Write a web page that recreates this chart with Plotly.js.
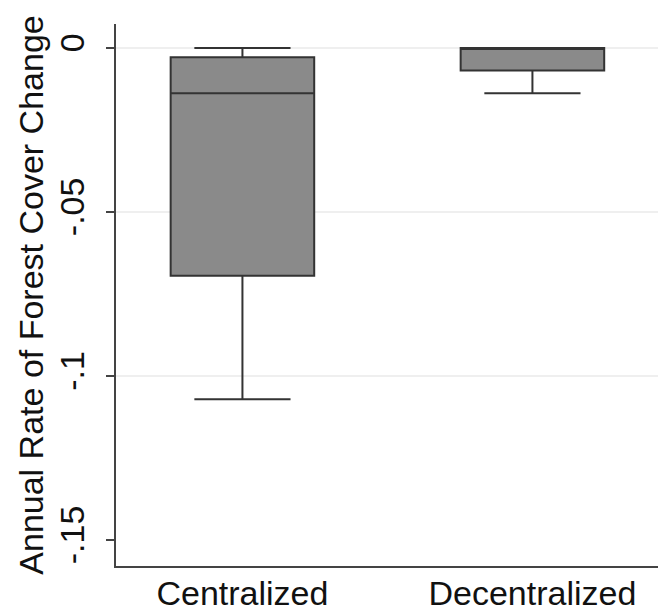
<!DOCTYPE html>
<html>
<head>
<meta charset="utf-8">
<script src="https://cdn.plot.ly/plotly-3.0.1.min.js"></script>
<style>html,body{margin:0;padding:0;background:#fff;}#chart{width:658px;height:608px;}</style>
</head>
<body>
<div id="chart"></div>
<script>
// Data
const categories = ["Centralized", "Decentralized"];
const lowerWhisker = [-0.1071, -0.0138];
const q1Values = [-0.0694, -0.0069];
const medianValues = [-0.0138, 0.0];
const q3Values = [-0.0028, 0.0];
const upperWhisker = [0.0, 0.0];
const yTickVals = [0, -0.05, -0.1, -0.15];
const yTickText = ["0", "-.05", "-.1", "-.15"];
const gridVals = [0, -0.05, -0.1];

const font = "Liberation Sans, Arial, sans-serif";
const fs = 34;

const traces = [{
  type: "scatter", x: [categories[0]], y: [0], yaxis: "y2",
  mode: "markers", marker: {opacity: 0}, hoverinfo: "skip", showlegend: false
}, {
  type: "box",
  x: categories,
  q1: q1Values,
  median: medianValues,
  q3: q3Values,
  lowerfence: lowerWhisker,
  upperfence: upperWhisker,
  width: 0.495,
  whiskerwidth: 0.67,
  fillcolor: "#8a8a8a",
  line: {color: "#333333", width: 2},
  boxpoints: false,
  hoverinfo: "skip",
  showlegend: false
}];

const yRange = [-0.1579, 0.0073];

const layout = {
  width: 658, height: 608,
  margin: {l: 116, r: 0, t: 24, b: 42, pad: 0},
  paper_bgcolor: "#ffffff",
  plot_bgcolor: "rgba(0,0,0,0)",
  font: {family: font, size: fs, color: "#111111"},
  showlegend: false,
  xaxis: {
    type: "category",
    range: [-0.436, 1.433],
    showline: true, linecolor: "#444444", linewidth: 2,
    ticks: "", showgrid: false, zeroline: false,
    tickfont: {family: font, size: fs, color: "#111111"},
    ticklabelstandoff: -4,
    fixedrange: true
  },
  yaxis: {
    range: yRange,
    tickvals: yTickVals, ticktext: yTickText,
    tickangle: -90,
    ticks: "outside", ticklen: 8, tickwidth: 2, tickcolor: "#444444",
    showline: true, linecolor: "#444444", linewidth: 2,
    showgrid: false, zeroline: false,
    tickfont: {family: font, size: fs, color: "#111111"},
    ticklabelstandoff: 8,
    title: {text: "Annual Rate of Forest Cover Change", font: {family: font, size: fs, color: "#111111"}, standoff: 0},
    automargin: false,
    fixedrange: true
  },
  yaxis2: {
    overlaying: "y",
    range: yRange,
    tickvals: gridVals,
    showticklabels: false, ticks: "",
    showgrid: true, gridcolor: "#efefef", gridwidth: 2,
    zeroline: false, showline: false,
    fixedrange: true
  }
};

Plotly.newPlot("chart", traces, layout, {displayModeBar: false, staticPlot: true});
</script>
</body>
</html>
